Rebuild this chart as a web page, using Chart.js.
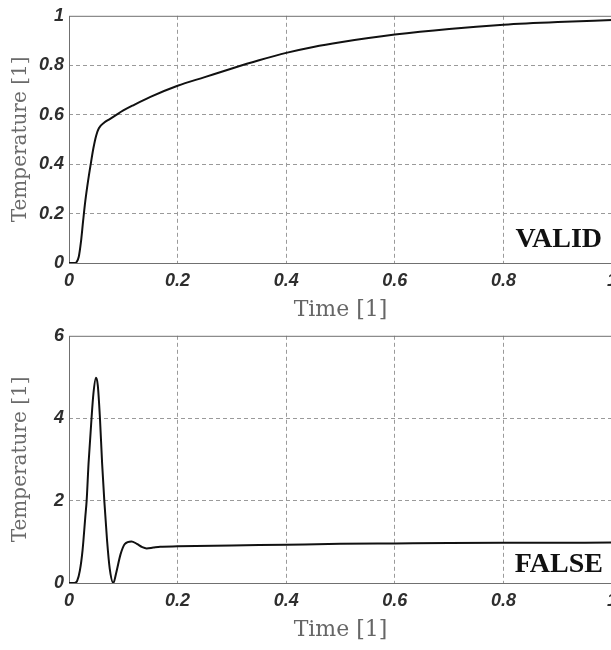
<!DOCTYPE html>
<html>
<head>
    <meta charset="UTF-8">
    <title>Temperature vs Time</title>
    <script src="https://cdn.jsdelivr.net/npm/chart.js"></script>
    <style>
        body { margin: 0; background: #fff; overflow: hidden; }
        .plot { width: 640px; height: 320px; }
    </style>
</head>
<body>
    <div class="plot"><canvas id="validChart" width="640" height="320"></canvas></div>
    <div class="plot"><canvas id="falseChart" width="640" height="320"></canvas></div>

<script>
// tick values
const timeTicks = [0, 0.2, 0.4, 0.6, 0.8, 1];
const validTempTicks = [0, 0.2, 0.4, 0.6, 0.8, 1];
const falseTempTicks = [0, 2, 4, 6];

// top panel (VALID)
const validTime = [0, 0.01, 0.014, 0.018, 0.022, 0.026, 0.030, 0.035, 0.040, 0.045, 0.050, 0.055, 0.065, 0.075, 0.085, 0.1, 0.12, 0.15, 0.2, 0.25, 0.3, 0.35, 0.4, 0.45, 0.5, 0.6, 0.7, 0.8, 0.9, 1.0];
const validTemp = [0, 0, 0.004, 0.025, 0.085, 0.17, 0.25, 0.33, 0.40, 0.465, 0.515, 0.545, 0.568, 0.582, 0.596, 0.617, 0.64, 0.672, 0.717, 0.752, 0.787, 0.82, 0.85, 0.874, 0.893, 0.924, 0.947, 0.964, 0.975, 0.983];

// bottom panel (FALSE)
const falseTime = [0, 0.01, 0.015, 0.02, 0.025, 0.03, 0.0325, 0.036, 0.0415, 0.045, 0.0497, 0.053, 0.057, 0.061, 0.065, 0.070, 0.075, 0.0816, 0.087, 0.095, 0.103, 0.115, 0.125, 0.135, 0.143, 0.155, 0.168, 0.2, 0.3, 0.4, 0.5, 0.6, 0.7, 0.8, 0.9, 1.0];
const falseTemp = [0, 0, 0.05, 0.3, 0.8, 1.6, 2.0, 2.9, 4.0, 4.6, 4.98, 4.8, 4.0, 2.9, 2.0, 1.05, 0.35, 0, 0.25, 0.7, 0.95, 1.01, 0.95, 0.87, 0.84, 0.86, 0.88, 0.89, 0.91, 0.93, 0.95, 0.96, 0.97, 0.976, 0.978, 0.98];

const tickFont = { family: 'Liberation Sans', weight: 'bold', style: 'italic', size: 18 };

// frame around the plot area + the VALID / FALSE stamp
const frameBox = {
    id: 'frameBox',
    beforeDatasetsDraw(chart, args, opts) {
        const { ctx, chartArea: a } = chart;
        ctx.save();
        ctx.strokeStyle = '#707070';
        ctx.lineWidth = 1;
        ctx.strokeRect(a.left + 0.5, a.top + 0.5, a.right - a.left, a.bottom - a.top);
        ctx.font = 'bold 28px "Liberation Serif"';
        ctx.fillStyle = '#111';
        ctx.textAlign = 'right';
        ctx.textBaseline = 'alphabetic';
        ctx.fillText(opts.text, a.right - opts.dx, a.bottom - opts.dy);
        ctx.restore();
    }
};

function gridColor(min, max) {
    return ctx => (ctx.tick && (ctx.tick.value === min || ctx.tick.value === max)) ? 'rgba(0,0,0,0)' : '#9a9a9a';
}

function makeChart(id, xs, ys, yTicks, stamp) {
    const yMax = yTicks[yTicks.length - 1];
    return new Chart(document.getElementById(id), {
        type: 'line',
        data: {
            datasets: [{
                data: xs.map((x, i) => ({ x: x, y: ys[i] })),
                borderColor: '#111',
                borderWidth: 2,
                pointRadius: 0,
                cubicInterpolationMode: 'monotone'
            }]
        },
        options: {
            responsive: false,
            animation: false,
            devicePixelRatio: 1,
            layout: { padding: { top: 10, right: 28, left: 0, bottom: 0 } },
            plugins: {
                legend: { display: false },
                tooltip: { enabled: false },
                frameBox: stamp
            },
            scales: {
                x: {
                    type: 'linear',
                    min: 0,
                    max: 1,
                    afterBuildTicks: s => { s.ticks = timeTicks.map(v => ({ value: v })); },
                    afterFit: s => { s.height = 57; },
                    ticks: { font: tickFont, color: '#2e2e2e', padding: 7, maxRotation: 0, callback: v => String(v) },
                    grid: { color: gridColor(0, 1), drawTicks: false },
                    border: { display: false, dash: [4, 3] },
                    title: {
                        display: true,
                        text: 'Time [1]',
                        color: '#666',
                        font: { family: 'DejaVu Serif', size: 22, lineHeight: 0.85 },
                        padding: { top: 0, bottom: 0 }
                    }
                },
                y: {
                    min: 0,
                    max: yMax,
                    afterBuildTicks: s => { s.ticks = yTicks.map(v => ({ value: v })); },
                    afterFit: s => { s.width = 69; },
                    ticks: { font: tickFont, color: '#2e2e2e', padding: 5, callback: v => String(v) },
                    grid: { color: gridColor(0, yMax), drawTicks: false },
                    border: { display: false, dash: [4, 3] },
                    title: {
                        display: true,
                        text: 'Temperature [1]',
                        color: '#6a6a6a',
                        font: { family: 'DejaVu Serif', size: 20, lineHeight: 1.2 },
                        padding: { top: 9, bottom: 0 }
                    }
                }
            }
        },
        plugins: [frameBox]
    });
}

makeChart('validChart', validTime, validTemp, validTempTicks, { text: 'VALID', dx: 10, dy: 16 });
makeChart('falseChart', falseTime, falseTemp, falseTempTicks, { text: 'FALSE', dx: 9, dy: 11 });
</script>
</body>
</html>
